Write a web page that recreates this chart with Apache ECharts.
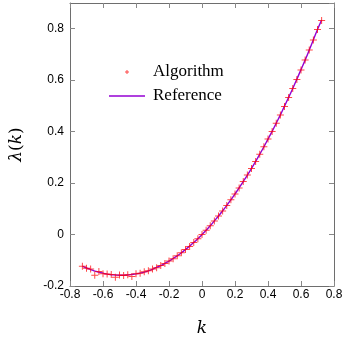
<!DOCTYPE html>
<html>
<head>
<meta charset="utf-8">
<script src="https://cdn.jsdelivr.net/npm/echarts@6/dist/echarts.min.js"></script>
<style>
  html,body{margin:0;padding:0;background:#fff;}
  #chart{width:346px;height:342px;}
</style>
</head>
<body>
<div id="chart"></div>
<script>
// k values (x axis)
var kValues=[-0.725,-0.7,-0.675,-0.65,-0.625,-0.6,-0.575,-0.55,-0.525,-0.5,-0.475,-0.45,-0.425,-0.4,-0.375,-0.35,-0.325,-0.3,-0.275,-0.25,-0.225,-0.2,-0.175,-0.15,-0.125,-0.1,-0.075,-0.05,-0.025,0,
  0.025,0.05,0.075,0.1,0.125,0.15,0.175,0.2,0.225,0.25,0.275,0.3,0.325,0.35,0.375,0.4,0.425,0.45,0.475,0.5,0.525,0.55,0.575,0.6,0.625,0.65,0.675,0.7,0.725]
// algorithm estimates (red crosses)
var algorithm=[-0.123,-0.131,-0.134,-0.158,-0.144,-0.152,-0.153,-0.155,-0.166,-0.157,-0.159,-0.156,-0.163,-0.152,-0.150,-0.145,-0.141,-0.134,-0.129,-0.120,-0.113,-0.103,-0.094,-0.082,-0.071,-0.058,-0.046,-0.031,-0.016,0.000,
  0.017,0.034,0.053,0.072,0.092,0.113,0.135,0.158,0.181,0.206,0.231,0.257,0.284,0.312,0.341,0.371,0.401,0.433,0.465,0.498,0.533,0.568,0.603,0.640,0.678,0.717,0.756,0.797,0.832]
// reference curve (purple line)
var reference=[-0.123,-0.130,-0.136,-0.142,-0.146,-0.150,-0.154,-0.156,-0.157,-0.158,-0.158,-0.157,-0.155,-0.153,-0.150,-0.146,-0.141,-0.135,-0.128,-0.121,-0.112,-0.103,-0.093,-0.083,-0.071,-0.058,-0.045,-0.031,-0.016,0.000,
  0.017,0.034,0.053,0.072,0.092,0.113,0.135,0.158,0.181,0.206,0.231,0.257,0.284,0.312,0.341,0.371,0.401,0.433,0.465,0.499,0.533,0.568,0.604,0.641,0.678,0.717,0.757,0.797,0.834]

var xTicks={min:-0.8,max:0.8,interval:0.2}
var yTicks={min:-0.2,max:0.9,interval:0.2}

var ptsA=kValues.map(function(k,i){return [k,algorithm[i]]})
var ptsR=kValues.map(function(k,i){return [k,reference[i]]})

var axisCol='#6e6e6e'
var plus='path://M3,0H4V3H7V4H4V7H3V4H0V3H3Z'
var plusSmall='path://M0,0M14,14M6.5,5H7.5V6.5H9V7.5H7.5V9H6.5V7.5H5V6.5H6.5Z'
var lineIcon='path://M0,0H36V1.4H0Z'

function xAxisCfg(pos,labels){
  return {
    type:'value',position:pos,min:xTicks.min,max:xTicks.max,interval:xTicks.interval,
    axisLine:{onZero:false,lineStyle:{color:axisCol,width:1}},
    axisTick:{inside:true,length:5,lineStyle:{color:'#888'}},
    axisLabel:{show:labels,color:'#000',fontFamily:'Liberation Sans',fontSize:12,margin:3},
    splitLine:{show:false}
  }
}
function yAxisCfg(pos,labels){
  return {
    type:'value',position:pos,min:yTicks.min,max:yTicks.max,interval:yTicks.interval,
    axisLine:{onZero:false,lineStyle:{color:axisCol,width:1}},
    axisTick:{inside:true,length:5,lineStyle:{color:'#888'}},
    axisLabel:{show:labels,showMaxLabel:false,color:'#000',fontFamily:'Liberation Sans',fontSize:12,margin:6},
    splitLine:{show:false}
  }
}

var xMain=xAxisCfg('bottom',true)
xMain.name='k'
xMain.nameLocation='middle'
xMain.nameGap=34
xMain.nameTextStyle={fontFamily:'DejaVu Serif',fontStyle:'italic',fontSize:17,color:'#000'}

var yMain=yAxisCfg('left',true)
yMain.name='{i|λ}({i|k})'
yMain.nameLocation='middle'
yMain.nameGap=45
yMain.nameTextStyle={fontFamily:'DejaVu Serif',fontSize:17,color:'#000',
  rich:{i:{fontFamily:'DejaVu Serif',fontStyle:'italic',fontSize:17,color:'#000'}}}

var chart=echarts.init(document.getElementById('chart'))
chart.setOption({
  animation:false,
  backgroundColor:'#fff',
  grid:{left:61,right:12,top:3,bottom:45},
  legend:{
    orient:'vertical',left:104,top:58,itemWidth:36,itemHeight:14,itemGap:6,
    textStyle:{fontFamily:'Liberation Serif',fontSize:17,color:'#000',lineHeight:18,padding:[0,0,0,3]},
    data:[{name:'Algorithm',icon:plusSmall},{name:'Reference',icon:lineIcon}]
  },
  xAxis:[xMain,xAxisCfg('top',false)],
  yAxis:[yMain,yAxisCfg('right',false)],
  series:[
    {
      name:'Reference',type:'line',data:ptsR,smooth:true,symbol:'none',
      lineStyle:{color:'#9400d3',width:1.4},itemStyle:{color:'#9400d3'},z:2
    },
    {
      name:'Algorithm',type:'scatter',data:ptsA,symbol:plus,symbolSize:7,
      itemStyle:{color:'rgba(255,0,0,0.9)'},z:3
    }
  ]
})
</script>
</body>
</html>
